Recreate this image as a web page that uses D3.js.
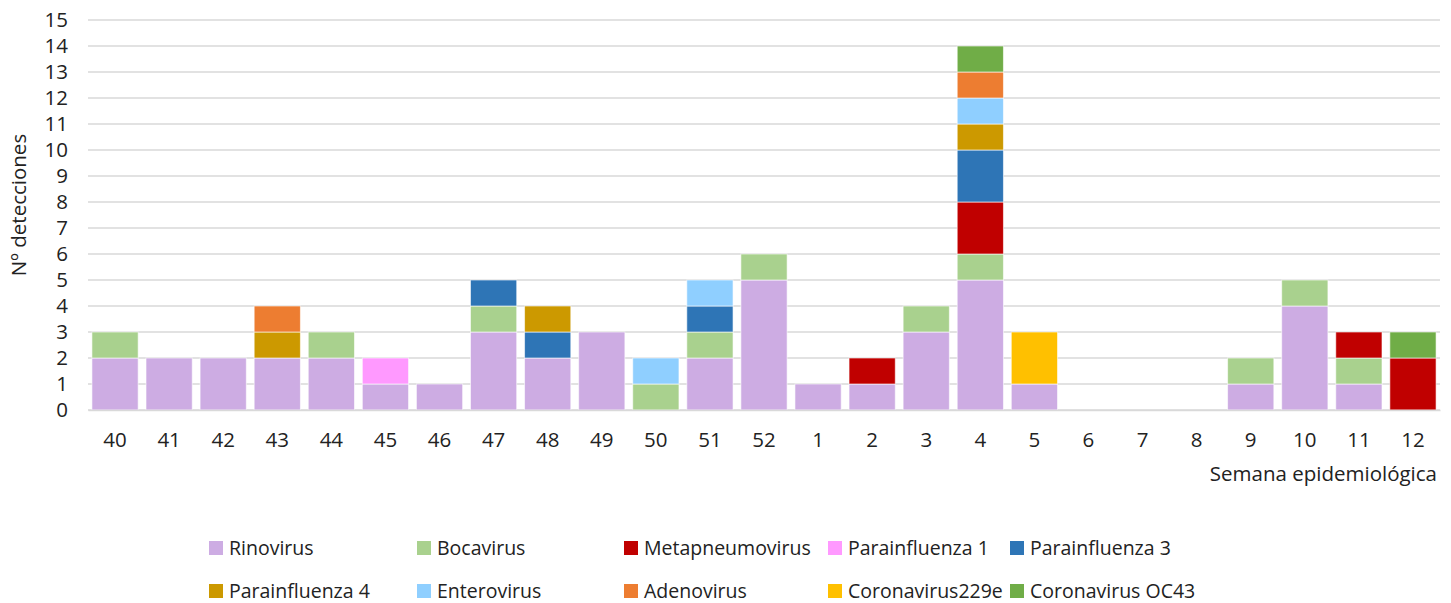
<!DOCTYPE html>
<html>
<head>
<meta charset="utf-8">
<script src="https://cdn.jsdelivr.net/npm/d3@7"></script>
<style>
  body { margin: 0; background: #fff; }
  text { font-family: "Open Sans", "Liberation Sans", sans-serif; fill: #222; }
</style>
</head>
<body>
<div id="chart"></div>
<script>
// week labels on the x axis
const weeks = ["40","41","42","43","44","45","46","47","48","49","50","51","52","1","2","3","4","5","6","7","8","9","10","11","12"];
const viruses = ["Rinovirus","Bocavirus","Metapneumovirus","Parainfluenza 1","Parainfluenza 3","Parainfluenza 4","Enterovirus","Adenovirus","Coronavirus229e","Coronavirus OC43"];
const colors = ["#cdace3","#a9d18e","#c00000","#ff99ff","#2e75b6","#cc9900","#8fcfff","#ed7d31","#ffc000","#70ad47"];

// detections per week, one array per virus
const rinovirus      = [2,2,2,2,2,1,1,3,2,3,0,2,5,1,1,3,5,1,0,0,0,1,4,1,0];
const bocavirus      = [1,0,0,0,1,0,0,1,0,0,1,1,1,0,0,1,1,0,0,0,0,1,1,1,0];
const metapneumo     = [0,0,0,0,0,0,0,0,0,0,0,0,0,0,1,0,2,0,0,0,0,0,0,1,2];
const parainf1       = [0,0,0,0,0,1,0,0,0,0,0,0,0,0,0,0,0,0,0,0,0,0,0,0,0];
const parainf3       = [0,0,0,0,0,0,0,1,1,0,0,1,0,0,0,0,2,0,0,0,0,0,0,0,0];
const parainf4       = [0,0,0,1,0,0,0,0,1,0,0,0,0,0,0,0,1,0,0,0,0,0,0,0,0];
const enterovirus    = [0,0,0,0,0,0,0,0,0,0,1,1,0,0,0,0,1,0,0,0,0,0,0,0,0];
const adenovirus     = [0,0,0,1,0,0,0,0,0,0,0,0,0,0,0,0,1,0,0,0,0,0,0,0,0];
const corona229e     = [0,0,0,0,0,0,0,0,0,0,0,0,0,0,0,0,0,2,0,0,0,0,0,0,0];
const coronaOC43     = [0,0,0,0,0,0,0,0,0,0,0,0,0,0,0,0,1,0,0,0,0,0,0,0,1];
const yTicks = d3.range(0, 16);

const series = [rinovirus, bocavirus, metapneumo, parainf1, parainf3, parainf4, enterovirus, adenovirus, corona229e, coronaOC43];
const table = weeks.map((w, i) => {
  const row = { week: w };
  viruses.forEach((v, j) => { row[v] = series[j][i]; });
  return row;
});

const fs = 20.5;
const svgWidth = 1451, svgHeight = 603;
const margin = { top: 20, right: 11, bottom: 193, left: 88 };
const width = svgWidth - margin.left - margin.right;
const height = svgHeight - margin.top - margin.bottom;

const svg = d3.select("#chart").append("svg")
  .attr("width", svgWidth)
  .attr("height", svgHeight);

const g = svg.append("g").attr("transform", `translate(${margin.left},${margin.top})`);

const x = d3.scaleBand().domain(weeks).range([0, width]).paddingInner(0.145).paddingOuter(0.0725);
const y = d3.scaleLinear().domain([0, 15]).range([height, 0]);
const color = d3.scaleOrdinal().domain(viruses).range(colors);

// gridlines
g.append("g")
  .selectAll("line")
  .data(yTicks)
  .join("line")
  .attr("x1", 0)
  .attr("x2", width)
  .attr("y1", d => y(d))
  .attr("y2", d => y(d))
  .attr("stroke", "#d9d9d9")
  .attr("stroke-width", 1.5);

// y axis labels
const yAxis = g.append("g")
  .call(d3.axisLeft(y).tickValues(yTicks).tickSize(0).tickPadding(20).tickFormat(d3.format("d")));
yAxis.select(".domain").remove();
yAxis.selectAll("text").attr("font-size", fs).style("font-family", "'Open Sans', sans-serif").attr("fill", "#222");

// stacked bars
const stacked = d3.stack().keys(viruses)(table);
g.append("g")
  .selectAll("g")
  .data(stacked)
  .join("g")
  .attr("fill", d => color(d.key))
  .selectAll("rect")
  .data(d => d.filter(s => s[1] - s[0] > 0))
  .join("rect")
  .attr("x", d => x(d.data.week))
  .attr("y", d => y(d[1]))
  .attr("width", x.bandwidth())
  .attr("height", d => y(d[0]) - y(d[1]))
  .attr("stroke", "#fff")
  .attr("stroke-opacity", 0.6)
  .attr("stroke-width", 1);

// x axis
const xAxis = g.append("g")
  .attr("transform", `translate(0,${height})`)
  .call(d3.axisBottom(x).tickSize(0).tickPadding(22));
xAxis.select(".domain").attr("stroke", "#d9d9d9").attr("stroke-width", 1.5);
xAxis.selectAll("text").attr("font-size", fs).style("font-family", "'Open Sans', sans-serif").attr("fill", "#222");

// axis titles
g.append("text")
  .attr("x", width - 3)
  .attr("y", height + 71)
  .attr("text-anchor", "end")
  .attr("font-size", fs)
  .text("Semana epidemiológica");

svg.append("text")
  .attr("transform", `translate(26,${margin.top + height / 2 - 10}) rotate(-90)`)
  .attr("text-anchor", "middle")
  .attr("font-size", fs)
  .text("Nº detecciones");

// legend
const legendX = [209, 417, 624, 828, 1010];
const legendY = [548, 591];
const legend = svg.append("g")
  .selectAll("g")
  .data(viruses)
  .join("g")
  .attr("transform", (d, i) => `translate(${legendX[i % 5]},${legendY[Math.floor(i / 5)]})`);
legend.append("rect")
  .attr("x", 0)
  .attr("y", -7)
  .attr("width", 14)
  .attr("height", 14)
  .attr("fill", d => color(d));
legend.append("text")
  .attr("x", 20)
  .attr("y", 7)
  .attr("font-size", 19.5)
  .text(d => d);
</script>
</body>
</html>
